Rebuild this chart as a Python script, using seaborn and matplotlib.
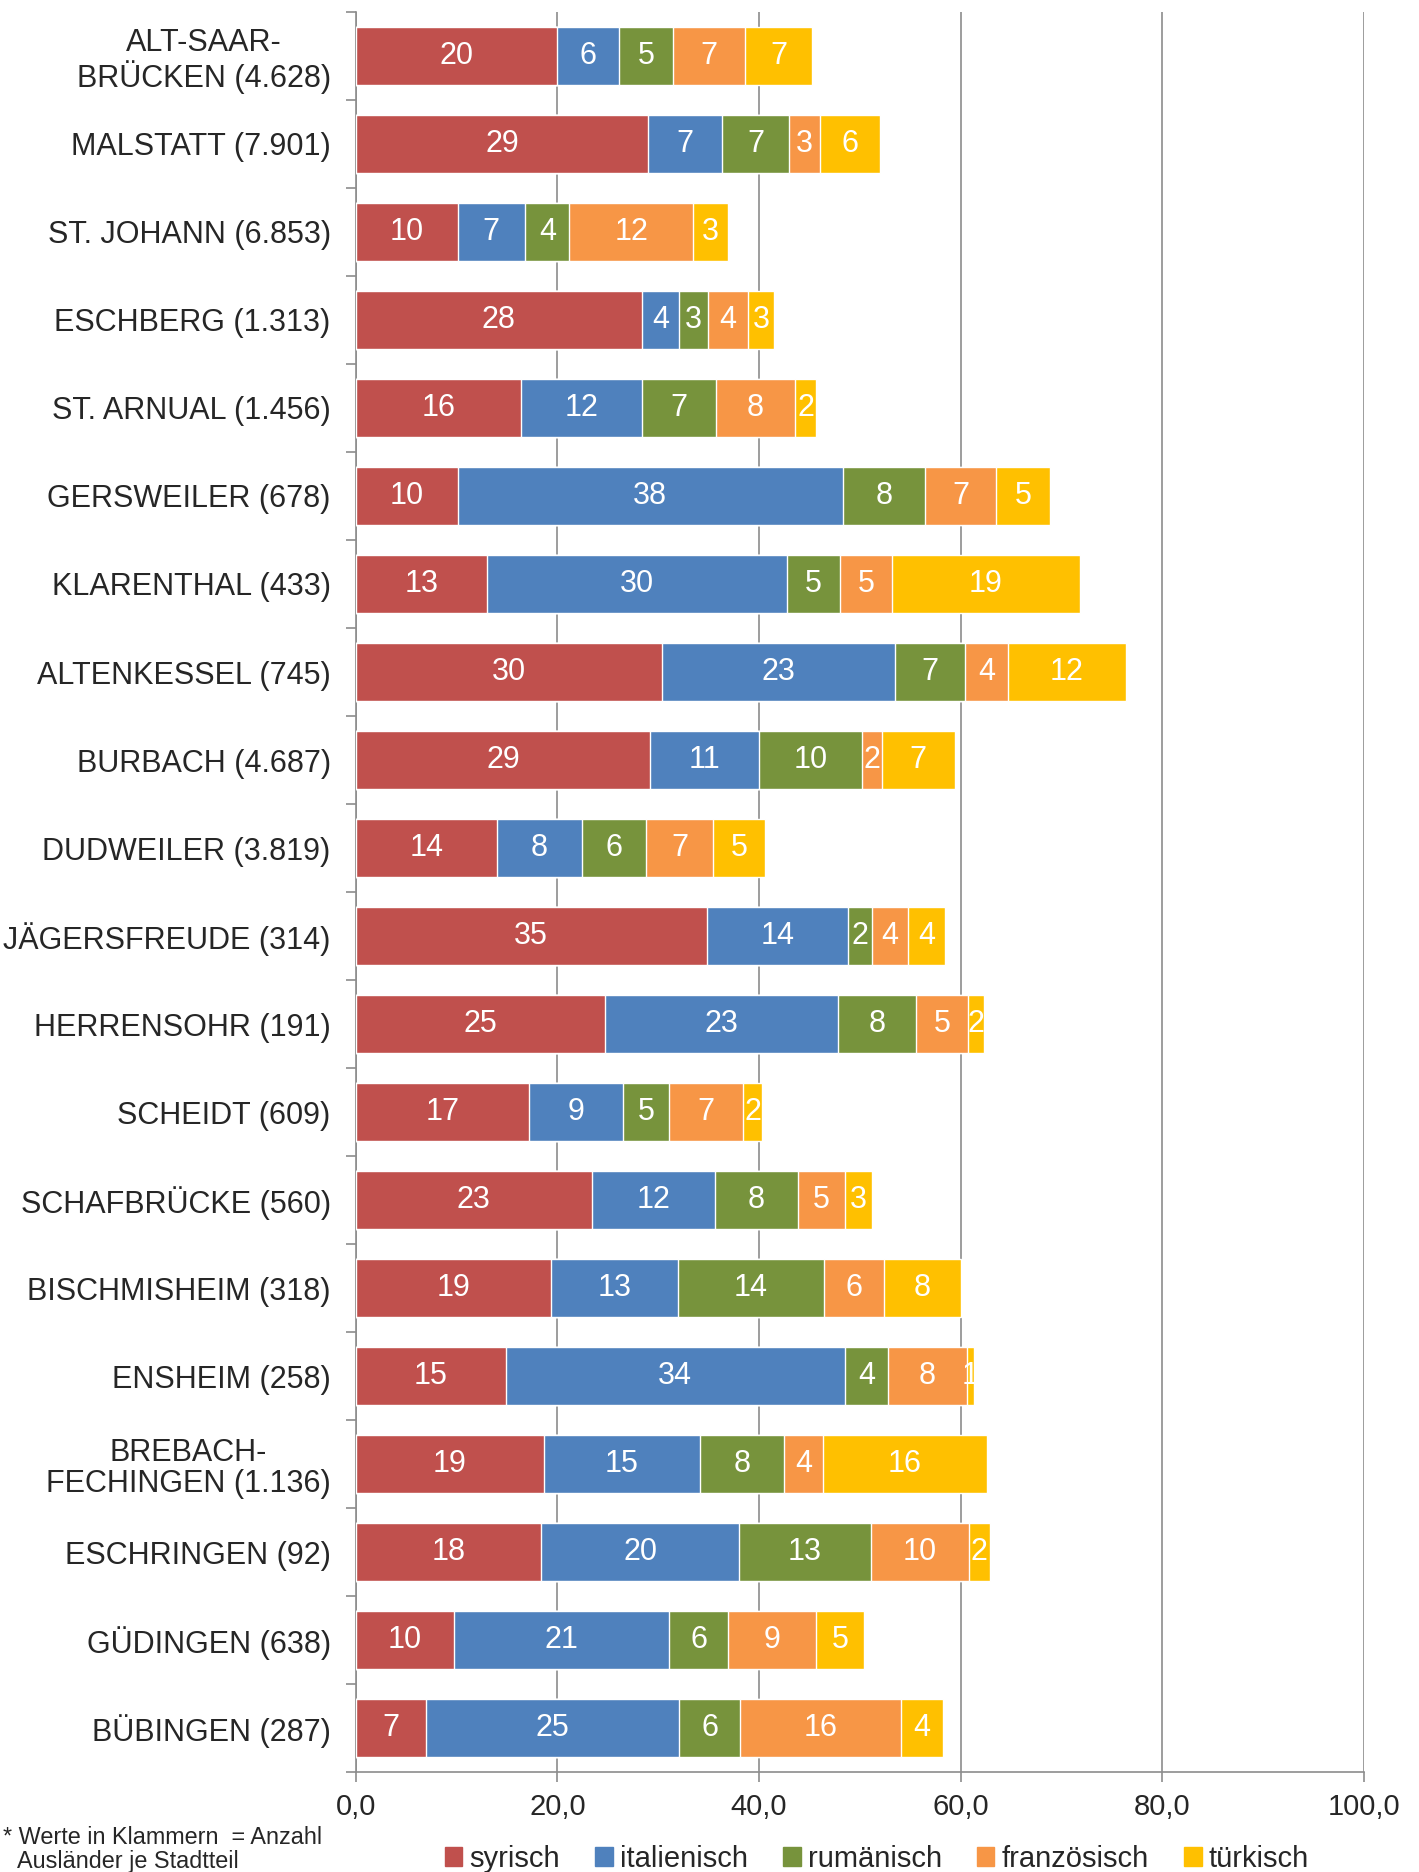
import pandas as pd
import numpy as np
import matplotlib
matplotlib.use('Agg')
import matplotlib.pyplot as plt
import seaborn as sns
from matplotlib.ticker import FuncFormatter, FixedLocator

# Stadtteile (Anzahl Ausländer in Klammern)
districts = [
    'ALT-SAAR-\nBRÜCKEN (4.628)', 'MALSTATT (7.901)', 'ST. JOHANN (6.853)',
    'ESCHBERG (1.313)', 'ST. ARNUAL (1.456)', 'GERSWEILER (678)',
    'KLARENTHAL (433)', 'ALTENKESSEL (745)', 'BURBACH (4.687)',
    'DUDWEILER (3.819)', 'JÄGERSFREUDE (314)', 'HERRENSOHR (191)',
    'SCHEIDT (609)', 'SCHAFBRÜCKE (560)', 'BISCHMISHEIM (318)',
    'ENSHEIM (258)', 'BREBACH-\nFECHINGEN (1.136)', 'ESCHRINGEN (92)',
    'GÜDINGEN (638)', 'BÜBINGEN (287)',
]

syrisch      = [20.0, 29.0, 10.1, 28.4, 16.4, 10.1, 13.0, 30.4, 29.2, 14.0,
                34.8, 24.7, 17.2, 23.4, 19.4, 14.9, 18.7, 18.4, 9.7, 7.0]
italienisch  = [6.15, 7.3, 6.7, 3.7, 12.0, 38.2, 29.8, 23.1, 10.8, 8.4,
                14.0, 23.1, 9.3, 12.2, 12.6, 33.6, 15.4, 19.6, 21.4, 25.1]
rumaenisch   = [5.3, 6.7, 4.4, 2.8, 7.3, 8.2, 5.2, 6.9, 10.2, 6.4,
                2.4, 7.8, 4.6, 8.3, 14.4, 4.3, 8.4, 13.1, 5.8, 6.0]
franzoesisch = [7.2, 3.0, 12.3, 4.0, 7.9, 7.0, 5.2, 4.3, 2.0, 6.6,
                3.6, 5.1, 7.3, 4.6, 6.0, 7.8, 3.8, 9.7, 8.8, 16.0]
tuerkisch    = [6.6, 6.0, 3.4, 2.6, 2.1, 5.4, 18.6, 11.7, 7.2, 5.2,
                3.6, 1.6, 1.9, 2.7, 7.6, 0.7, 16.3, 2.1, 4.7, 4.1]

series_names = ['syrisch', 'italienisch', 'rumänisch', 'französisch', 'türkisch']
colors = ['#C0504D', '#4F81BD', '#77933C', '#F79646', '#FFC000']

df = pd.DataFrame({
    'Stadtteil': districts,
    'syrisch': syrisch,
    'italienisch': italienisch,
    'rumänisch': rumaenisch,
    'französisch': franzoesisch,
    'türkisch': tuerkisch,
})
cum = df[series_names].cumsum(axis=1)

sns.set_style('white')
plt.rcParams['font.family'] = ['Liberation Sans', 'DejaVu Sans']

fig = plt.figure(figsize=(14.19, 18.72), dpi=100)
ax = fig.add_axes([0.2507, 0.0534, 0.7105, 0.9402])

# stacked bars: draw cumulative totals from the outermost segment inwards
for name, col in reversed(list(zip(series_names, colors))):
    sns.barplot(x=cum[name], y=df['Stadtteil'], orient='h', color=col,
                width=0.665, edgecolor='white', linewidth=1.0,
                saturation=1, ax=ax, zorder=3, label=name)

# value labels in segment centres
for i in range(len(df)):
    left = 0.0
    for name in series_names:
        w = df.loc[i, name]
        ax.text(left + w / 2, i, f'{w:.0f}', ha='center', va='center',
                color='white', fontsize=22, zorder=5)
        left += w

ax.set_xlim(0, 100)
ax.set_ylim(len(df) - 0.5, -0.5)
ax.set_xticks([0, 20, 40, 60, 80, 100])
ax.xaxis.set_major_formatter(FuncFormatter(lambda v, p: f'{v:.1f}'.replace('.', ',')))
ax.set_xlabel('')
ax.set_ylabel('')

ax.grid(axis='x', color='#8C8C8C', linewidth=1.2, zorder=0)
ax.grid(axis='y', visible=False)
for s in ['top', 'right']:
    ax.spines[s].set_visible(False)
for s in ['left', 'bottom']:
    ax.spines[s].set_color('#8C8C8C')
    ax.spines[s].set_linewidth(1.2)

ax.tick_params(axis='x', length=7, width=1.2, color='#8C8C8C', direction='out',
               labelsize=21, pad=8, bottom=True)
ax.tick_params(axis='y', which='major', length=0, labelsize=22, pad=18)
ax.yaxis.set_minor_locator(FixedLocator(np.arange(-0.5, len(df), 1.0)))
ax.tick_params(axis='y', which='minor', length=7, width=1.2, color='#8C8C8C',
               direction='out', left=True)
for lab in ax.get_yticklabels():
    lab.set_multialignment('center')
    lab.set_linespacing(1.08)

if ax.get_legend() is not None:
    ax.get_legend().remove()
handles = [plt.Rectangle((0, 0), 1, 1, color=c) for c in colors]
fig.legend(handles, series_names, loc='center', bbox_to_anchor=(0.618, 0.007),
           ncol=5, frameon=False, fontsize=21, handlelength=0.6, handleheight=0.6,
           handletextpad=0.25, columnspacing=1.2)

fig.text(0.002, 0.0185, '* Werte in Klammern  = Anzahl', fontsize=16.8, va='center')
fig.text(0.012, 0.0055, 'Ausländer je Stadtteil', fontsize=16.8, va='center')

fig.savefig('out.png', dpi=100)
